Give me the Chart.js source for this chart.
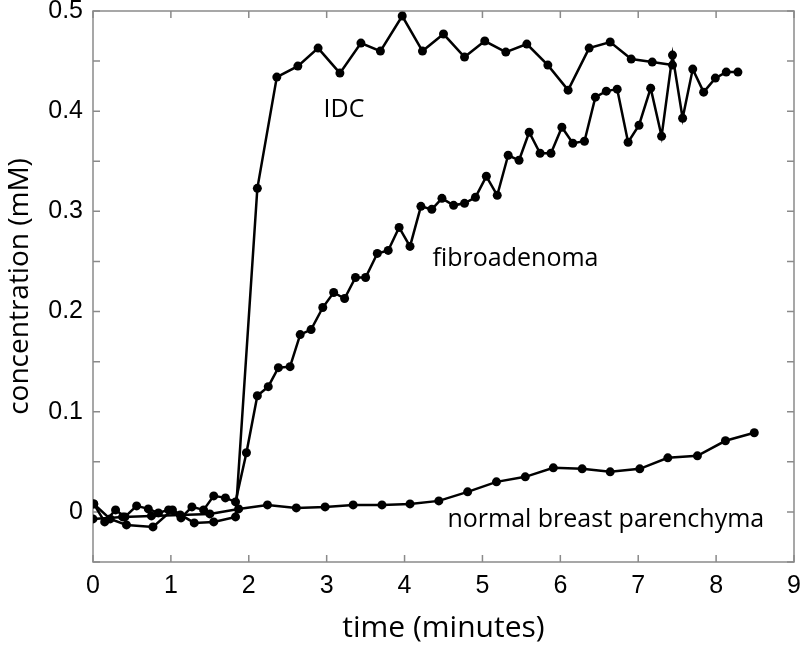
<!DOCTYPE html>
<html lang="en">
<head>
<meta charset="UTF-8">
<title>Concentration vs time</title>
<style>
  body { margin: 0; background: #fff; }
  canvas { display: block; }
</style>
</head>
<body>
<canvas id="chartContainer" width="800" height="646"></canvas>
<script src="https://cdn.jsdelivr.net/npm/chart.js"></script>
<script>
// time (minutes) and concentration (mM)
const idcTime = [0.01, 0.22, 0.43, 0.77, 1.02, 1.30, 1.55, 1.83, 2.11, 2.36, 2.63, 2.89, 3.17, 3.44, 3.69, 3.97,
  4.23, 4.50, 4.77, 5.03, 5.30, 5.57, 5.84, 6.10, 6.37, 6.64, 6.91, 7.18, 7.44];
const idcConc = [0.008, -0.007, -0.013, -0.015, 0.002, -0.011, -0.010, -0.005, 0.323, 0.434, 0.445, 0.463, 0.438,
  0.468, 0.460, 0.495, 0.460, 0.477, 0.454, 0.470, 0.459, 0.467, 0.446, 0.421, 0.463, 0.469, 0.452, 0.449, 0.446];

const fibroTime = [0.01, 0.15, 0.29, 0.41, 0.56, 0.71, 0.84, 0.97, 1.13, 1.27, 1.42, 1.55, 1.70, 1.83, 1.97,
  2.11, 2.25, 2.38, 2.53, 2.66, 2.80, 2.95, 3.09, 3.23, 3.37, 3.50, 3.65, 3.79, 3.93, 4.07, 4.21, 4.35, 4.48,
  4.63, 4.77, 4.91, 5.05, 5.19, 5.33, 5.47, 5.60, 5.74, 5.88, 6.02, 6.16, 6.31, 6.45, 6.59, 6.73, 6.87, 7.01,
  7.16, 7.30, 7.44, 7.57, 7.70, 7.84, 7.99, 8.13, 8.28];
const fibroConc = [0.008, -0.010, 0.002, -0.005, 0.006, 0.003, -0.001, 0.002, -0.006, 0.005, 0.002, 0.016, 0.014,
  0.010, 0.059, 0.116, 0.125, 0.144, 0.145, 0.177, 0.182, 0.204, 0.219, 0.213, 0.234, 0.234, 0.258, 0.261, 0.284,
  0.265, 0.305, 0.302, 0.313, 0.306, 0.308, 0.314, 0.335, 0.316, 0.356, 0.351, 0.379, 0.358, 0.358, 0.384, 0.368,
  0.370, 0.414, 0.420, 0.422, 0.369, 0.386, 0.423, 0.375, 0.456, 0.393, 0.442, 0.419, 0.433, 0.439, 0.439];

const normalTime = [0.00, 0.38, 0.75, 1.12, 1.50, 1.87, 2.24, 2.61, 2.98, 3.34, 3.71, 4.07, 4.44, 4.81, 5.18,
  5.55, 5.91, 6.28, 6.64, 7.02, 7.38, 7.76, 8.12, 8.49];
const normalConc = [-0.007, -0.005, -0.004, -0.003, -0.002, 0.003, 0.007, 0.004, 0.005, 0.007, 0.007, 0.008,
  0.011, 0.020, 0.030, 0.035, 0.044, 0.043, 0.040, 0.043, 0.054, 0.056, 0.071, 0.079];

const seriesNames = ['IDC', 'fibroadenoma', 'normal breast parenchyma'];

const xTitle = 'time (minutes)';
const yTitle = 'concentration (mM)';

// where each series name sits, in data units (left edge, vertical middle)
const labelAnchors = [
  { x: 2.96, y: 0.401 },
  { x: 4.36, y: 0.253 },
  { x: 4.55, y: -0.008 }
];

function toPoints(xs, ys) {
  return xs.map((v, i) => ({ x: v, y: ys[i] }));
}

const frameGray = '#8a8a8a';
const annoFont = '25px "Open Sans", sans-serif';
const tickFont = { family: '"Liberation Sans", Arial, sans-serif', size: 25 };

// box round the plot, inward ticks on all sides, and the series names
const framePlugin = {
  id: 'frame',
  beforeDatasetsDraw(chart) {
    const { ctx, chartArea: a, scales: { x, y } } = chart;
    ctx.save();
    ctx.strokeStyle = frameGray;
    ctx.lineWidth = 1.5;
    ctx.strokeRect(a.left, a.top, a.right - a.left, a.bottom - a.top);
    ctx.beginPath();
    x.ticks.forEach(t => {
      const px = x.getPixelForValue(t.value);
      ctx.moveTo(px, a.bottom); ctx.lineTo(px, a.bottom - 7);
      ctx.moveTo(px, a.top); ctx.lineTo(px, a.top + 7);
    });
    y.ticks.forEach(t => {
      const py = y.getPixelForValue(t.value);
      ctx.moveTo(a.left, py); ctx.lineTo(a.left + 7, py);
      ctx.moveTo(a.right, py); ctx.lineTo(a.right - 7, py);
    });
    ctx.stroke();
    ctx.restore();
  },
  afterDatasetsDraw(chart) {
    const { ctx, scales: { x, y } } = chart;
    ctx.save();
    ctx.fillStyle = '#000';
    ctx.font = annoFont;
    ctx.textAlign = 'left';
    ctx.textBaseline = 'middle';
    seriesNames.forEach((name, i) => {
      const p = labelAnchors[i];
      ctx.fillText(name, x.getPixelForValue(p.x), y.getPixelForValue(p.y));
    });
    ctx.restore();
  }
};

function lineSet(label, xs, ys) {
  return {
    label: label,
    data: toPoints(xs, ys),
    showLine: true,
    borderColor: '#000',
    backgroundColor: '#000',
    borderWidth: 2.5,
    pointRadius: 4.5,
    pointBorderWidth: 0,
    tension: 0
  };
}

new Chart(document.getElementById('chartContainer'), {
  type: 'scatter',
  data: {
    datasets: [
      lineSet(seriesNames[2], normalTime, normalConc),
      lineSet(seriesNames[1], fibroTime, fibroConc),
      lineSet(seriesNames[0], idcTime, idcConc)
    ]
  },
  options: {
    responsive: false,
    animation: false,
    layout: { padding: { left: 0, top: 11, right: 6, bottom: 0 } },
    plugins: {
      legend: { display: false },
      tooltip: { enabled: false }
    },
    scales: {
      x: {
        type: 'linear',
        min: 0,
        max: 9,
        grid: { display: false, drawTicks: false },
        border: { display: false },
        ticks: {
          stepSize: 1,
          autoSkip: false,
          maxRotation: 0,
          padding: 9,
          color: '#000',
          font: tickFont
        },
        title: {
          display: true,
          text: xTitle,
          color: '#000',
          padding: { top: 0, bottom: 0 },
          font: { family: '"Open Sans", sans-serif', size: 30 }
        },
        afterFit(s) {
          s.height = 84;
          s.paddingLeft = 0;
          s.paddingRight = 0;
        }
      },
      y: {
        type: 'linear',
        min: -0.05,
        max: 0.5,
        grid: { display: false, drawTicks: false },
        border: { display: false },
        ticks: {
          stepSize: 0.05,
          autoSkip: false,
          padding: 10,
          color: '#000',
          font: tickFont,
          callback: v => (Math.round(v * 100) % 10 === 0 ? String(Number(v.toFixed(2))) : '')
        },
        title: {
          display: true,
          text: yTitle,
          color: '#000',
          padding: { top: 3, bottom: 0 },
          font: { family: '"Open Sans", sans-serif', size: 28 }
        },
        afterFit(s) {
          s.width = 93;
          s.paddingTop = 0;
          s.paddingBottom = 0;
        }
      }
    }
  },
  plugins: [framePlugin]
});
</script>
</body>
</html>
